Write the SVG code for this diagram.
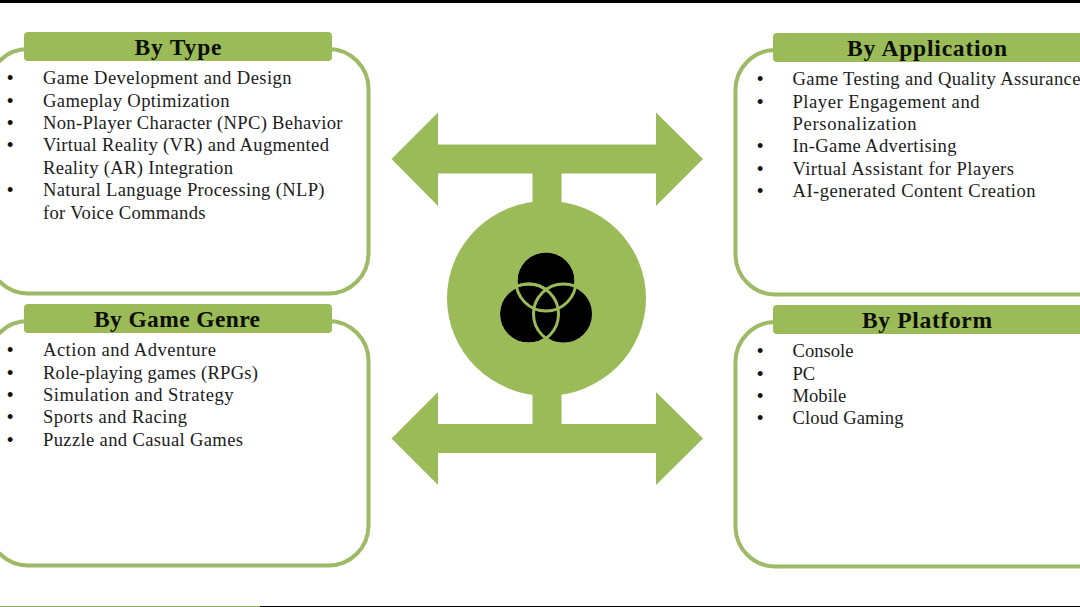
<svg xmlns="http://www.w3.org/2000/svg" width="1080" height="607" viewBox="0 0 1080 607">
<style>
.f{fill:#9bbb59}
.card{fill:#fff;stroke:#9fba66;stroke-width:4}
.h{fill:#0b0f05;font:bold 23.5px "Liberation Serif","DejaVu Serif",serif;text-anchor:middle}
.t{fill:#1c1c1c;font:18.6px "Liberation Serif","DejaVu Serif",serif}
.b{fill:#111;font:18px "Liberation Sans",Arial,sans-serif}
.v{fill:#000;stroke:#9bbb59;stroke-width:3}
.w{fill:none;stroke:#9bbb59;stroke-width:3}
</style>
<rect width="1080" height="607" fill="#fff"/>
<rect width="1080" height="3" fill="#000"/>
<rect x="260" y="606" width="820" height="1" fill="#000"/>
<rect x="0" y="606" width="260" height="1" fill="#8fb550"/>
<g id="connectors" class="f">
<path d="M391.500 159L438 112.500V144.500H656V112.500L703 159L656 206V173.500H561.500V210H532.500V173.500H438V206Z"/>
<path d="M391.500 438.500L438 392V424H532.500V390H561.500V424H656V392L703 438.500L656 485V453H438V485Z"/>
</g>
<g id="hub">
<ellipse class="f" cx="546.500" cy="298.300" rx="99.500" ry="97.500"/>
<circle class="v" cx="546" cy="281" r="30"/>
<circle class="v" cx="528.500" cy="314" r="30"/>
<circle class="v" cx="563.500" cy="314" r="30"/>
<circle class="w" cx="546" cy="281" r="30"/>
<circle class="w" cx="528.500" cy="314" r="30"/>
</g>
<g id="by-type">
<rect class="card" x="-12" y="49" width="380.500" height="244.500" rx="40"/>
<rect class="f" x="24" y="32" width="308" height="29" rx="4"/>
<text class="h" x="178" y="55" textLength="87">By Type</text>
<g class="b"><text x="7" y="84">•</text><text x="7" y="107">•</text><text x="7" y="129">•</text><text x="7" y="151">•</text><text x="7" y="196">•</text></g>
<text class="t" x="43" y="84" textLength="248.500">Game Development and Design</text>
<text class="t" x="43" y="107" textLength="186.500">Gameplay Optimization</text>
<text class="t" x="43" y="129" textLength="299.500">Non-Player Character (NPC) Behavior</text>
<text class="t" x="43" y="151" textLength="286">Virtual Reality (VR) and Augmented</text>
<text class="t" x="43" y="174" textLength="190">Reality (AR) Integration</text>
<text class="t" x="43" y="196" textLength="281.500">Natural Language Processing (NLP)</text>
<text class="t" x="43" y="219" textLength="162.500">for Voice Commands</text>
</g>
<g id="by-application">
<rect class="card" x="735.500" y="50" width="400" height="244.500" rx="40"/>
<rect class="f" x="773" y="33" width="320" height="29" rx="4"/>
<text class="h" x="927" y="56" textLength="160">By Application</text>
<g class="b"><text x="757" y="85">•</text><text x="757" y="108">•</text><text x="757" y="152">•</text><text x="757" y="175">•</text><text x="757" y="197">•</text></g>
<text class="t" x="792.500" y="85" textLength="288">Game Testing and Quality Assurance</text>
<text class="t" x="792.500" y="108" textLength="187">Player Engagement and</text>
<text class="t" x="792.500" y="130" textLength="124">Personalization</text>
<text class="t" x="792.500" y="152" textLength="164">In-Game Advertising</text>
<text class="t" x="792.500" y="175" textLength="221.500">Virtual Assistant for Players</text>
<text class="t" x="792.500" y="197" textLength="243">AI-generated Content Creation</text>
</g>
<g id="by-game-genre">
<rect class="card" x="-12" y="321" width="380.500" height="244.500" rx="40"/>
<rect class="f" x="24" y="304" width="308" height="29" rx="4"/>
<text class="h" x="177" y="327" textLength="166">By Game Genre</text>
<g class="b"><text x="7" y="356">•</text><text x="7" y="379">•</text><text x="7" y="401">•</text><text x="7" y="423">•</text><text x="7" y="446">•</text></g>
<text class="t" x="43" y="356" textLength="173">Action and Adventure</text>
<text class="t" x="43" y="379" textLength="215">Role-playing games (RPGs)</text>
<text class="t" x="43" y="401" textLength="190.500">Simulation and Strategy</text>
<text class="t" x="43" y="423" textLength="144">Sports and Racing</text>
<text class="t" x="43" y="446" textLength="200">Puzzle and Casual Games</text>
</g>
<g id="by-platform">
<rect class="card" x="735.500" y="322" width="400" height="244.500" rx="40"/>
<rect class="f" x="773" y="305" width="320" height="29" rx="4"/>
<text class="h" x="927" y="328" textLength="130">By Platform</text>
<g class="b"><text x="757" y="357">•</text><text x="757" y="380">•</text><text x="757" y="402">•</text><text x="757" y="424">•</text></g>
<text class="t" x="792.500" y="357">Console</text>
<text class="t" x="792.500" y="380">PC</text>
<text class="t" x="792.500" y="402">Mobile</text>
<text class="t" x="792.500" y="424" textLength="111">Cloud Gaming</text>
</g>
</svg>
